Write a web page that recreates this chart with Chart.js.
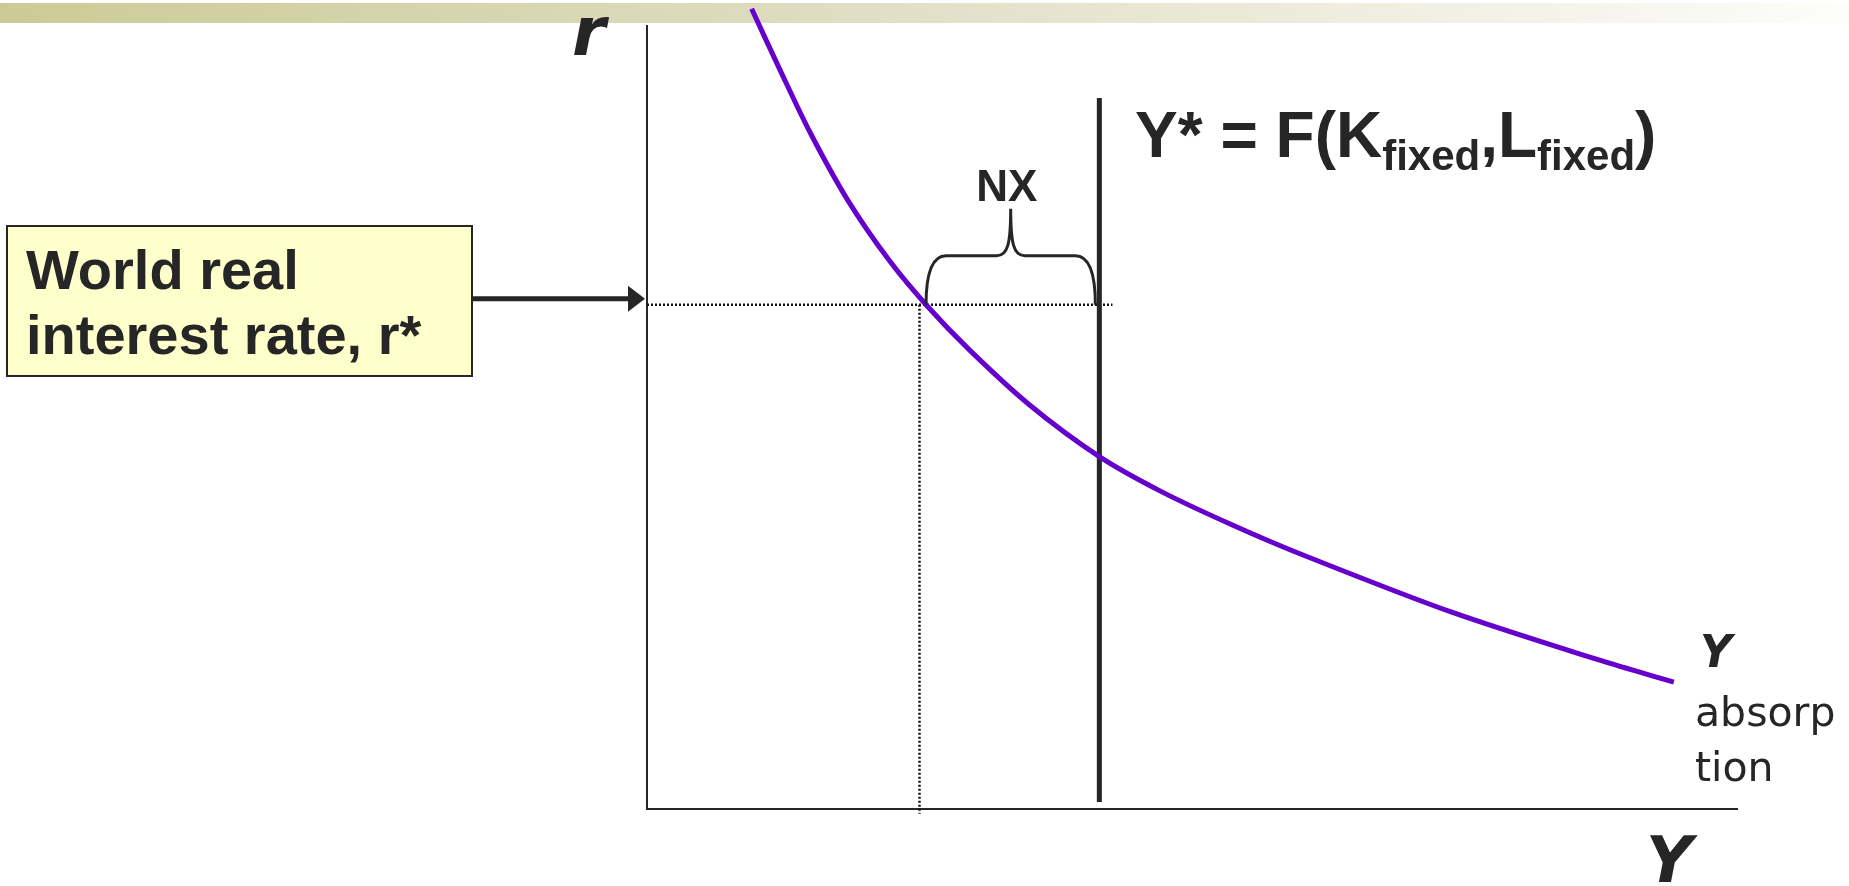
<!DOCTYPE html>
<html>
<head>
<meta charset="utf-8">
<title>World real interest rate and absorption</title>
<script src="https://cdn.jsdelivr.net/npm/chart.js@4.4.1/dist/chart.umd.min.js"></script>
<style>
  html, body { margin: 0; padding: 0; background: #fff; overflow: hidden; }
  #chart { display: block; }
</style>
</head>
<body>
<canvas id="chart" width="1849" height="886"></canvas>
<script>
// absorption curve (both axes on a 0-100 scale)
const absorptionY = [9.6, 12.2, 15.0, 18.4, 22.2, 25.6, 29.6, 35.1, 41.5, 47.1, 53.5, 59.9, 73.7, 87.4, 94.2];
const absorptionR = [102.2, 94.4, 86.3, 77.8, 70.1, 64.4, 58.6, 51.6, 45.0, 40.6, 36.4, 32.6, 25.2, 19.0, 16.2];

const worldRate = 64.4;         // r*
const absorptionAtRate = 25.0;  // absorption when r = r*
const braceStart = 25.6;
const fullEmploymentY = 41.5;   // Y*
const yStarRange = [0.9, 90.8];
const rateLineEnd = 42.7;
const axisRange = [0, 100];

const boxLines = ['World real', 'interest rate, r*'];
const curveName = ['absorp', 'tion'];

const ink = '#262626';

const slidePlugin = {
  id: 'slide',
  beforeDraw(chart) {
    const ctx = chart.ctx;
    // title band along the top of the slide
    const g = ctx.createLinearGradient(0, 0, chart.width, 0);
    g.addColorStop(0, '#cccb96');
    g.addColorStop(0.45, '#dfddc2');
    g.addColorStop(1, '#fdfdfb');
    ctx.save();
    ctx.fillStyle = g;
    ctx.fillRect(0, 3, chart.width, 20);
    ctx.restore();
  },
  afterDraw(chart) {
    const ctx = chart.ctx;
    const xs = chart.scales.x, ys = chart.scales.y;
    ctx.save();
    ctx.fillStyle = ink;
    ctx.strokeStyle = ink;

    // yellow note box
    ctx.fillStyle = '#ffffcc';
    ctx.fillRect(7, 226, 465, 150);
    ctx.lineWidth = 2;
    ctx.strokeRect(7, 226, 465, 150);
    ctx.fillStyle = ink;
    ctx.font = 'bold 56px "Liberation Sans", Arial, sans-serif';
    ctx.textBaseline = 'alphabetic';
    ctx.fillText(boxLines[0], 26, 289);
    ctx.fillText(boxLines[1], 26, 354);

    // arrow from the box to the r axis
    const ay = ys.getPixelForValue(worldRate) - 6;
    const ax = xs.getPixelForValue(axisRange[0]) - 2;
    ctx.lineWidth = 5;
    ctx.beginPath();
    ctx.moveTo(473, ay);
    ctx.lineTo(ax - 14, ay);
    ctx.stroke();
    ctx.beginPath();
    ctx.moveTo(ax - 17, ay - 13);
    ctx.lineTo(ax, ay);
    ctx.lineTo(ax - 17, ay + 13);
    ctx.closePath();
    ctx.fill();

    // brace over NX
    const bx0 = xs.getPixelForValue(braceStart);
    const bx1 = xs.getPixelForValue(fullEmploymentY) - 4;
    const by = ys.getPixelForValue(worldRate);
    const bt = by - 49, tip = by - 96;
    const bm = (bx0 + bx1) / 2;
    ctx.lineWidth = 3;
    ctx.beginPath();
    ctx.moveTo(bx0, by);
    ctx.quadraticCurveTo(bx0, bt, bx0 + 20, bt);
    ctx.lineTo(bm - 14, bt);
    ctx.bezierCurveTo(bm - 3, bt, bm, bt - 12, bm, tip);
    ctx.bezierCurveTo(bm, bt - 12, bm + 3, bt, bm + 14, bt);
    ctx.lineTo(bx1 - 20, bt);
    ctx.quadraticCurveTo(bx1, bt, bx1, by);
    ctx.stroke();

    ctx.textAlign = 'center';
    ctx.font = 'bold 44px "Liberation Sans", Arial, sans-serif';
    ctx.fillText('NX', bm - 4, tip - 8);

    // Y* = F(K fixed, L fixed)
    ctx.textAlign = 'left';
    const big = 'bold 64px "Liberation Sans", Arial, sans-serif';
    const sub = 'bold 42px "Liberation Sans", Arial, sans-serif';
    const parts = [['Y* = F(K', big, 0], ['fixed', sub, 13], [',', big, 0], ['L', big, 0], ['fixed', sub, 13], [')', big, 0]];
    let tx = 1135;
    const tb = 157;
    parts.forEach(p => {
      ctx.font = p[1];
      ctx.fillText(p[0], tx, tb + p[2]);
      tx += ctx.measureText(p[0]).width;
    });

    // axis names and curve name
    ctx.font = 'bold italic 68px "DejaVu Sans", Verdana, sans-serif';
    ctx.fillText('r', 572, 55);
    ctx.font = 'bold italic 64px "DejaVu Sans", Verdana, sans-serif';
    ctx.fillText('Y', 1646, 882);
    ctx.font = 'bold italic 44px "DejaVu Sans", Verdana, sans-serif';
    ctx.fillText('Y', 1700, 667);
    ctx.font = '41px "DejaVu Sans", Verdana, sans-serif';
    ctx.fillText(curveName[0], 1695, 726);
    ctx.fillText(curveName[1], 1695, 781);
    ctx.restore();
  }
};

const toPoints = (xsArr, ysArr) => xsArr.map((v, i) => ({ x: v, y: ysArr[i] }));

const hiddenAxis = {
  type: 'linear',
  min: axisRange[0],
  max: axisRange[1],
  grid: { display: false, drawTicks: false, tickLength: 0 },
  ticks: { display: false },
  border: { display: true, color: ink, width: 2 },
  title: { display: false }
};

new Chart(document.getElementById('chart'), {
  type: 'scatter',
  data: {
    datasets: [
      {
        label: 'absorption',
        data: toPoints(absorptionY, absorptionR),
        showLine: true,
        borderColor: '#6600cc',
        borderWidth: 5,
        pointRadius: 0,
        tension: 0.3,
        clip: false
      },
      {
        label: 'Y*',
        data: [{ x: fullEmploymentY, y: yStarRange[1] }, { x: fullEmploymentY, y: yStarRange[0] }],
        showLine: true,
        borderColor: ink,
        borderWidth: 5,
        pointRadius: 0,
        clip: false
      },
      {
        label: 'r*',
        data: [{ x: axisRange[0], y: worldRate }, { x: rateLineEnd, y: worldRate }],
        showLine: true,
        borderColor: '#111',
        borderWidth: 2.5,
        borderDash: [2, 2],
        pointRadius: 0,
        clip: false
      },
      {
        label: 'absorption at r*',
        data: [{ x: absorptionAtRate, y: worldRate }, { x: absorptionAtRate, y: -0.6 }],
        showLine: true,
        borderColor: '#111',
        borderWidth: 2.5,
        borderDash: [2, 2],
        pointRadius: 0,
        clip: false
      }
    ]
  },
  options: {
    responsive: false,
    animation: false,
    layout: { padding: { left: 647, top: 26, right: 112, bottom: 77 } },
    scales: { x: { ...hiddenAxis }, y: { ...hiddenAxis } },
    plugins: { legend: { display: false }, tooltip: { enabled: false } }
  },
  plugins: [slidePlugin]
});
</script>
</body>
</html>
